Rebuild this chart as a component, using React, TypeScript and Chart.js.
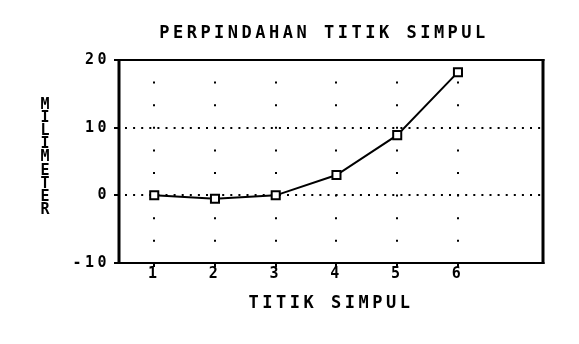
import { useEffect, useRef } from 'react';
import { Chart, registerables } from 'chart.js';

Chart.register(...registerables);

const chartTitle = 'PERPINDAHAN TITIK SIMPUL';
const xAxisTitle = 'TITIK SIMPUL';
const yAxisTitle = 'MILIMETER';
const nodes = [1, 2, 3, 4, 5, 6];
const displacement = [0, -0.5, 0, 3.0, 8.9, 18.2];
const xTicks = [1, 2, 3, 4, 5, 6];
const yTicks = [-10, 0, 10, 20];

const FONT = "'DejaVu Sans Mono', 'Liberation Mono', monospace";
const LETTER_SPACING = '3.5px';

const spacingPlugin = {
  id: 'letterSpacing',
  beforeLayout(chart: any) {
    chart.ctx.letterSpacing = LETTER_SPACING;
  },
  beforeDraw(chart: any) {
    chart.ctx.letterSpacing = LETTER_SPACING;
  },
};

const framePlugin = {
  id: 'frame',
  afterDraw(chart: any) {
    const { ctx, chartArea: a } = chart;
    ctx.save();
    ctx.fillStyle = '#000';
    const w = a.right - a.left;
    const h = a.bottom - a.top;
    ctx.fillRect(a.left - 1.5, a.top - 1, w + 3, 2);
    ctx.fillRect(a.left - 1.5, a.bottom - 1, w + 3, 2);
    ctx.fillRect(a.left - 1.5, a.top - 1, 3, h + 2);
    ctx.fillRect(a.right - 1.5, a.top - 1, 3, h + 2);
    ctx.restore();
  },
};

const yTitlePlugin = {
  id: 'stackedYTitle',
  afterDraw(chart: any) {
    const { ctx, chartArea: a } = chart;
    ctx.save();
    ctx.letterSpacing = '0px';
    ctx.font = `bold 15px ${FONT}`;
    ctx.fillStyle = '#000';
    ctx.textAlign = 'center';
    ctx.textBaseline = 'middle';
    const letters = yAxisTitle.split('');
    const pitch = 13.2;
    const mid = (a.top + a.bottom) / 2 - 4;
    const x = a.left - 74;
    letters.forEach((ch, i) => {
      ctx.fillText(ch, x, mid + (i - (letters.length - 1) / 2) * pitch);
    });
    ctx.restore();
  },
};

export default function App() {
  const ref = useRef<HTMLCanvasElement>(null);

  useEffect(() => {
    document.body.style.margin = '0';
    const canvas = ref.current;
    if (!canvas) return;
    const tickFont = { family: FONT, size: 15, weight: 'bold' as const, lineHeight: 1 };
    const titleFont = { family: FONT, size: 17, weight: 'bold' as const, lineHeight: 1.2 };
    const chart = new Chart(canvas, {
      type: 'line',
      data: {
        datasets: [
          {
            data: nodes.map((n, i) => ({ x: n, y: displacement[i] })),
            borderColor: '#000',
            borderWidth: 2,
            tension: 0,
            pointStyle: 'rect',
            pointRadius: 5.7,
            pointBorderWidth: 2,
            pointBackgroundColor: '#fff',
            pointBorderColor: '#000',
          },
        ],
      },
      options: {
        responsive: false,
        animation: false,
        devicePixelRatio: 1,
        layout: { padding: { left: 69, right: 0, top: 0, bottom: 0 } },
        plugins: {
          legend: { display: false },
          tooltip: { enabled: false },
          title: {
            display: true,
            text: chartTitle,
            color: '#000',
            font: titleFont,
            padding: { top: 23.8, bottom: 15.8 },
          },
        },
        scales: {
          x: {
            type: 'linear',
            min: 0.42,
            max: 7.4,
            afterBuildTicks: (s: any) => {
              s.ticks = xTicks.map((v) => ({ value: v }));
            },
            afterFit: (s: any) => {
              s.height = 81;
            },
            grid: { color: '#000', lineWidth: 2, tickLength: 4, tickColor: '#000', tickWidth: 2 },
            border: { display: false, dash: [2, 20.6], dashOffset: 1 },
            ticks: {
              color: '#000',
              font: tickFont,
              padding: 0,
              maxRotation: 0,
              autoSkip: false,
              callback: (v: any) => String(v),
            },
            title: {
              display: true,
              text: xAxisTitle,
              color: '#000',
              font: titleFont,
              padding: { top: 0, bottom: 29.8 },
            },
          },
          y: {
            type: 'linear',
            position: 'left',
            min: -10,
            max: 20,
            afterBuildTicks: (s: any) => {
              s.ticks = yTicks.map((v) => ({ value: v }));
            },
            afterFit: (s: any) => {
              s.width = 50;
            },
            grid: { color: '#000', lineWidth: 2, tickLength: 5, tickColor: '#000', tickWidth: 2 },
            border: { display: false, dash: [2, 6.1], dashOffset: 2.1 },
            ticks: {
              color: '#000',
              font: tickFont,
              padding: 4,
              callback: (v: any) => String(v),
            },
          },
          yRightSpace: {
            type: 'linear',
            position: 'right',
            display: true,
            min: 0,
            max: 1,
            grid: { display: false, drawTicks: false },
            border: { display: false },
            ticks: { display: false },
            afterFit: (s: any) => {
              s.width = 36;
            },
          },
        },
      },
      plugins: [spacingPlugin, framePlugin, yTitlePlugin],
    });
    return () => chart.destroy();
  }, []);

  return <canvas ref={ref} width={579} height={344} style={{ display: 'block' }} />;
}
